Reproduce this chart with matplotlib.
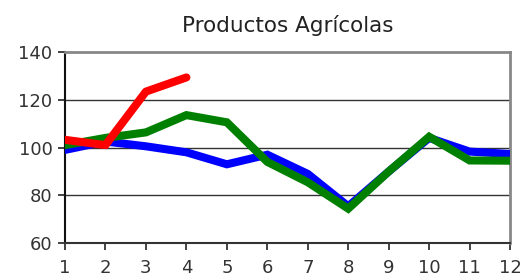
import numpy as np
from matplotlib import pyplot as plt

months = [1, 2, 3, 4, 5, 6, 7, 8, 9, 10, 11, 12]
blue_vals = [99, 102.5, 100.5, 98, 93, 97, 89, 75.5, 90, 104, 98.3, 97.3]
green_vals = [101, 104, 106.3, 113.5, 110.5, 94, 85.5, 74.5, 90, 104.5, 94.6, 94.5]
red_vals = [103.2, 101, 123.3, 129.2]
y_ticks = [60, 80, 100, 120, 140]

plt.rcParams['font.family'] = ['DejaVu Sans']

fig = plt.figure(figsize=(5.2, 2.77), dpi=100)
ax = fig.add_axes([0.125, 0.121, 0.856, 0.693])

ax.plot(months, blue_vals, color="#0000ff", lw=5.8, solid_joinstyle="miter", zorder=3)
ax.plot(months, green_vals, color="#008000", lw=5.8, solid_joinstyle="miter", zorder=4)
ax.plot(months[:len(red_vals)], red_vals, color="#ff0000", lw=5.8,
        solid_capstyle="round", solid_joinstyle="round", zorder=5)

ax.set_xlim(1, 12)
ax.set_ylim(60, 140)
ax.set_xticks(months)
ax.set_yticks(y_ticks)
for v in y_ticks[1:-1]:
    ax.axhline(v, color="#333333", lw=1.0, zorder=1)

ax.tick_params(axis="both", direction="out", length=5, width=1.2, color="#222222",
               labelsize=13, labelcolor="#333333")
ax.tick_params(axis="x", pad=6)
ax.tick_params(axis="y", pad=4)

ax.spines["left"].set_color("#111111")
ax.spines["left"].set_linewidth(1.5)
ax.spines["bottom"].set_color("#333333")
ax.spines["bottom"].set_linewidth(1.5)
for s in ("top", "right"):
    ax.spines[s].set_color("#888888")
    ax.spines[s].set_linewidth(2)

ax.set_title("Productos Agrícolas", fontsize=15.5, color="#222222", pad=14)

fig.savefig("out.png", dpi=100)
